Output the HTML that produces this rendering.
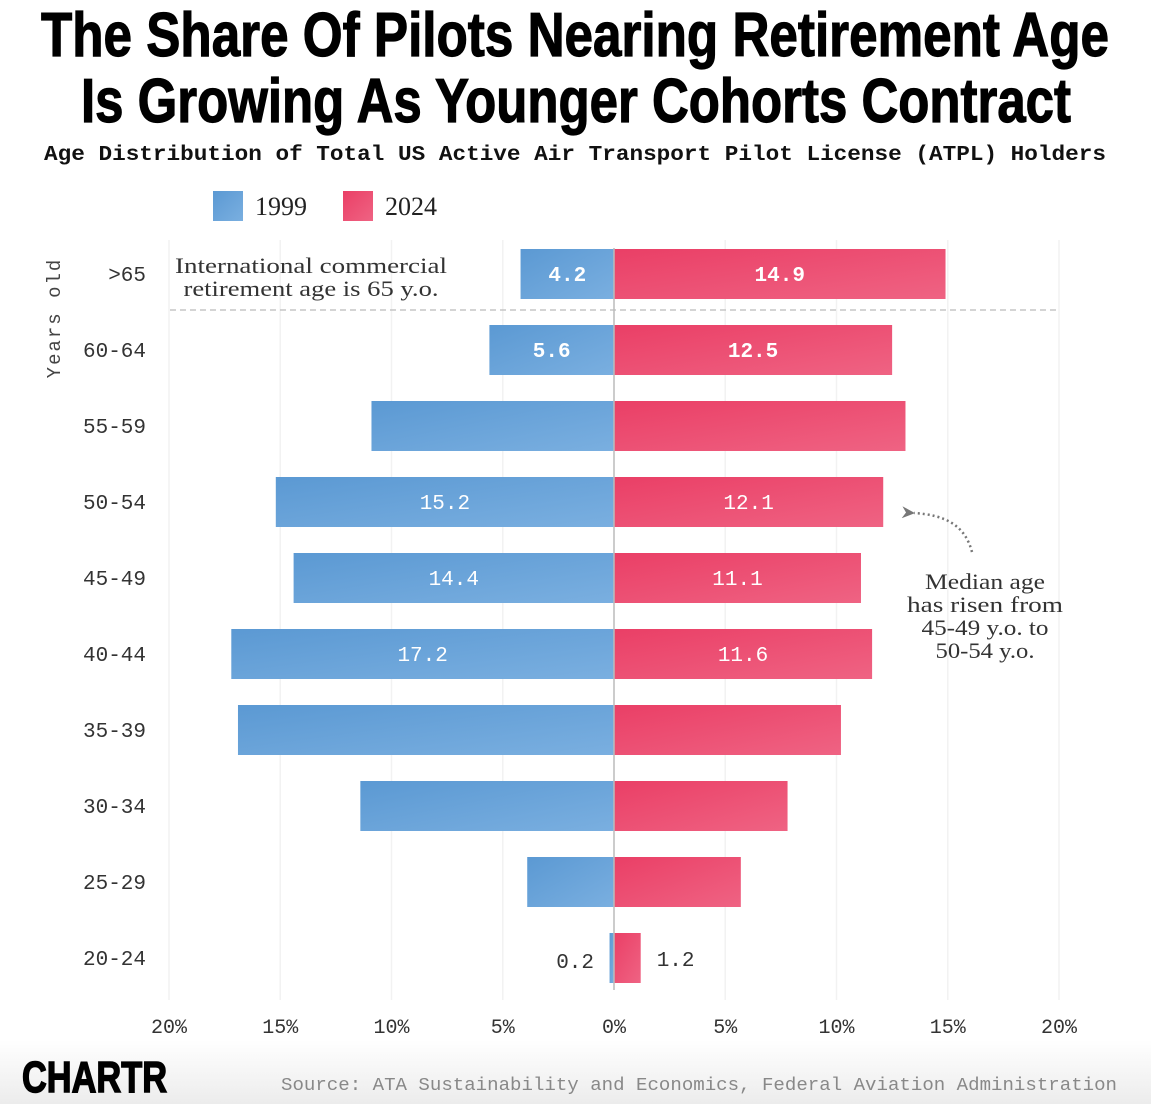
<!DOCTYPE html>
<html><head><meta charset="utf-8"><style>
html,body{margin:0;padding:0;background:#fff;}
svg{display:block;}
</style></head><body>
<svg id="chart" width="1151" height="1104" viewBox="0 0 1151 1104" xmlns="http://www.w3.org/2000/svg">
<defs>
<linearGradient id="gb" x1="0" y1="0" x2="1" y2="1"><stop offset="0" stop-color="#5b99d3"/><stop offset="1" stop-color="#7aafe0"/></linearGradient>
<linearGradient id="gr" x1="0" y1="0" x2="1" y2="1"><stop offset="0" stop-color="#ea3f66"/><stop offset="1" stop-color="#ef6383"/></linearGradient>
<linearGradient id="foot" x1="0" y1="0" x2="0" y2="1"><stop offset="0" stop-color="#fff"/><stop offset="1" stop-color="#ececec"/></linearGradient>
<marker id="ah" markerUnits="userSpaceOnUse" markerWidth="14" markerHeight="12" refX="1" refY="6" orient="auto-start-reverse"><path d="M0,6 L13,0 L9,6 L13,12 Z" fill="#777"/></marker>
</defs>
<rect x="0" y="1040" width="1151" height="64" fill="url(#foot)"/>
<text x="575" y="56" text-anchor="middle" font-family="'Liberation Sans Narrow','Liberation Sans',sans-serif" font-weight="bold" font-size="62" textLength="1068" lengthAdjust="spacingAndGlyphs" fill="#000" stroke="#000" stroke-width="1.2">The Share Of Pilots Nearing Retirement Age</text>
<text x="576" y="122" text-anchor="middle" font-family="'Liberation Sans Narrow','Liberation Sans',sans-serif" font-weight="bold" font-size="62" textLength="990" lengthAdjust="spacingAndGlyphs" fill="#000" stroke="#000" stroke-width="1.2">Is Growing As Younger Cohorts Contract</text>
<text x="575" y="160" text-anchor="middle" font-family="'Liberation Mono',monospace" font-weight="bold" font-size="21" textLength="1062" lengthAdjust="spacingAndGlyphs" fill="#111">Age Distribution of Total US Active Air Transport Pilot License (ATPL) Holders</text>
<g>
<rect x="213" y="191" width="30" height="30" fill="url(#gb)"/>
<text x="255" y="215" font-family="'Liberation Serif',serif" font-size="26" fill="#222">1999</text>
<rect x="343" y="191" width="30" height="30" fill="url(#gr)"/>
<text x="385" y="215" font-family="'Liberation Serif',serif" font-size="26" fill="#222">2024</text>
</g>
<g id="grid"></g>
<g id="bars"></g>
<g id="xaxis"></g>
<text transform="translate(60,318) rotate(-90)" text-anchor="middle" font-family="'Liberation Mono',monospace" font-size="19" fill="#444" letter-spacing="2">Years old</text>
<line x1="170" y1="310" x2="1060" y2="310" stroke="#bbb" stroke-width="1.2" stroke-dasharray="6,4"/>
<text x="311" y="273" text-anchor="middle" font-family="'Liberation Serif',serif" font-size="22" fill="#333" textLength="272" lengthAdjust="spacingAndGlyphs">International commercial</text>
<text x="311" y="296" text-anchor="middle" font-family="'Liberation Serif',serif" font-size="22" fill="#333" textLength="255" lengthAdjust="spacingAndGlyphs">retirement age is 65 y.o.</text>
<path d="M972,552 C965,525 945,515 914,513" fill="none" stroke="#777" stroke-width="2.5" stroke-dasharray="2,3" marker-end="url(#ah)"/>
<g font-family="'Liberation Serif',serif" font-size="22" fill="#333" text-anchor="middle">
<text x="985" y="589" textLength="120" lengthAdjust="spacingAndGlyphs">Median age</text><text x="985" y="612" textLength="156" lengthAdjust="spacingAndGlyphs">has risen from</text><text x="985" y="635" textLength="127" lengthAdjust="spacingAndGlyphs">45-49 y.o. to</text><text x="985" y="658" textLength="99" lengthAdjust="spacingAndGlyphs">50-54 y.o.</text>
</g>
<text x="22" y="1092" font-family="'Liberation Sans Narrow','Liberation Sans',sans-serif" font-weight="bold" font-size="44" fill="#000" stroke="#000" stroke-width="1.5" textLength="145" lengthAdjust="spacingAndGlyphs">CHARTR</text>
<text x="1117" y="1090" text-anchor="end" font-family="'Liberation Mono',monospace" font-size="18" fill="#888" textLength="836" lengthAdjust="spacingAndGlyphs">Source: ATA Sustainability and Economics, Federal Aviation Administration</text>
</svg>
<script>
const categories = [">65","60-64","55-59","50-54","45-49","40-44","35-39","30-34","25-29","20-24"];
const values1999 = [4.2,5.6,10.9,15.2,14.4,17.2,16.9,11.4,3.9,0.2];
const values2024 = [14.9,12.5,13.1,12.1,11.1,11.6,10.2,7.8,5.7,1.2];
const labels1999 = ["4.2","5.6","","15.2","14.4","17.2","","","","0.2"];
const labels2024 = ["14.9","12.5","","12.1","11.1","11.6","","","","1.2"];
const boldLabels = [true,true,false,false,false,false,false,false,false,false];
const ticks = [-20,-15,-10,-5,0,5,10,15,20];
const tickLabels = ["20%","15%","10%","5%","0%","5%","10%","15%","20%"];

const NS="http://www.w3.org/2000/svg";
const x0=614, pxPer=22.25;
const xs=v=>x0+v*pxPer;
const yc=i=>274+i*76;
const bh=50;
function mk(tag,attrs,parent){const e=document.createElementNS(NS,tag);for(const k in attrs)e.setAttribute(k,attrs[k]);parent.appendChild(e);return e;}
const grid=document.getElementById('grid'), bars=document.getElementById('bars'), xa=document.getElementById('xaxis');
ticks.forEach((t,i)=>{
  if(t!==0){const l=mk('line',{x1:xs(t),x2:xs(t),y1:240,y2:1000,stroke:'#f2f2f2','stroke-width':1.5},grid);
  
  }
  const tx=mk('text',{x:xs(t),y:1033,'text-anchor':'middle','font-family':"'Liberation Mono',monospace",'font-size':20,fill:'#333'},xa);
  tx.textContent=tickLabels[i];
  
  
});
categories.forEach((c,i)=>{
  const y=yc(i);
  const cl=mk('text',{x:146,y:y+7,'text-anchor':'end','font-family':"'Liberation Mono',monospace",'font-size':21,fill:'#333'},bars);
  cl.textContent=c;
  
  
  const w1=values1999[i]*pxPer;
  const b1=mk('rect',{x:x0-w1,y:y-bh/2,width:w1,height:bh,fill:'url(#gb)'},bars);
  
  
  const w2=values2024[i]*pxPer;
  const b2=mk('rect',{x:x0,y:y-bh/2,width:w2,height:bh,fill:'url(#gr)'},bars);
  
  
  const small=values1999[i]<2;
  if(labels1999[i]){
    const t=mk('text',{x:small?x0-20:x0-w1/2,y:y+(small?10:7),'text-anchor':small?'end':'middle','font-family':"'Liberation Mono',monospace",'font-size':21,'font-weight':boldLabels[i]?'bold':'normal',fill:small?'#333':'#fff'},bars);
    t.textContent=labels1999[i];
    
    
  }
  const small2=values2024[i]<2;
  if(labels2024[i]){
    const t=mk('text',{x:small2?x0+w2+16:x0+w2/2,y:y+(small2?8:7),'text-anchor':small2?'start':'middle','font-family':"'Liberation Mono',monospace",'font-size':21,'font-weight':boldLabels[i]?'bold':'normal',fill:small2?'#333':'#fff'},bars);
    t.textContent=labels2024[i];
    
    
  }
});
const zl=mk('line',{x1:x0,x2:x0,y1:248,y2:990,stroke:'#bbb','stroke-width':1.5},bars);


</script>
</body></html>
